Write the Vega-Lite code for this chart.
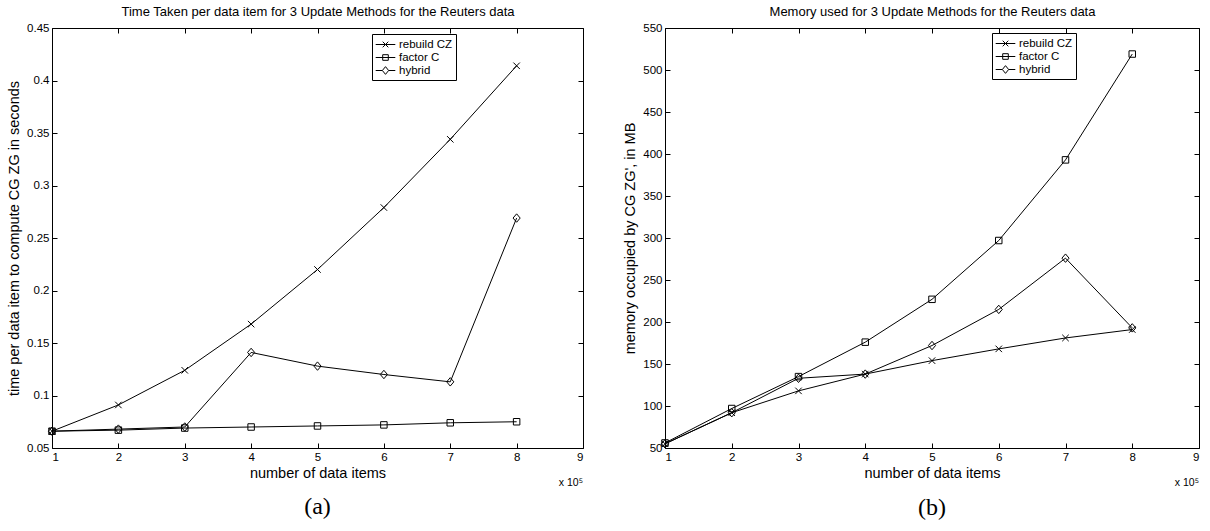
{
  "$schema": "https://vega.github.io/schema/vega-lite/v6.json",
  "background": "white",
  "padding": {"left": 6, "top": 5, "right": 6, "bottom": 4},
  "spacing": 38,
  "config": {
    "view": {"stroke": null},
    "font": "Liberation Sans",
    "axis": {
      "grid": false,
      "domainColor": "black",
      "tickColor": "black",
      "labelColor": "black",
      "titleColor": "black",
      "labelFont": "Liberation Sans",
      "titleFont": "Liberation Sans",
      "labelFontSize": 11.5,
      "titleFontSize": 14.5,
      "titleFontWeight": "normal",
      "tickSize": -5,
      "labelPadding": 8
    }
  },
  "datasets": {
    "time": [
      {"method": "rebuild CZ", "n": 1, "v": 0.066},
      {"method": "rebuild CZ", "n": 2, "v": 0.091},
      {"method": "rebuild CZ", "n": 3, "v": 0.124},
      {"method": "rebuild CZ", "n": 4, "v": 0.168},
      {"method": "rebuild CZ", "n": 5, "v": 0.220},
      {"method": "rebuild CZ", "n": 6, "v": 0.279},
      {"method": "rebuild CZ", "n": 7, "v": 0.344},
      {"method": "rebuild CZ", "n": 8, "v": 0.414},
      {"method": "factor C", "n": 1, "v": 0.066},
      {"method": "factor C", "n": 2, "v": 0.067},
      {"method": "factor C", "n": 3, "v": 0.069},
      {"method": "factor C", "n": 4, "v": 0.070},
      {"method": "factor C", "n": 5, "v": 0.071},
      {"method": "factor C", "n": 6, "v": 0.072},
      {"method": "factor C", "n": 7, "v": 0.074},
      {"method": "factor C", "n": 8, "v": 0.075},
      {"method": "hybrid", "n": 1, "v": 0.066},
      {"method": "hybrid", "n": 2, "v": 0.068},
      {"method": "hybrid", "n": 3, "v": 0.070},
      {"method": "hybrid", "n": 4, "v": 0.141},
      {"method": "hybrid", "n": 5, "v": 0.128},
      {"method": "hybrid", "n": 6, "v": 0.120},
      {"method": "hybrid", "n": 7, "v": 0.113},
      {"method": "hybrid", "n": 8, "v": 0.269}
    ],
    "memory": [
      {"method": "rebuild CZ", "n": 1, "v": 55},
      {"method": "rebuild CZ", "n": 2, "v": 92},
      {"method": "rebuild CZ", "n": 3, "v": 118},
      {"method": "rebuild CZ", "n": 4, "v": 138},
      {"method": "rebuild CZ", "n": 5, "v": 154},
      {"method": "rebuild CZ", "n": 6, "v": 168},
      {"method": "rebuild CZ", "n": 7, "v": 181},
      {"method": "rebuild CZ", "n": 8, "v": 191},
      {"method": "factor C", "n": 1, "v": 56},
      {"method": "factor C", "n": 2, "v": 97},
      {"method": "factor C", "n": 3, "v": 135},
      {"method": "factor C", "n": 4, "v": 176},
      {"method": "factor C", "n": 5, "v": 227},
      {"method": "factor C", "n": 6, "v": 297},
      {"method": "factor C", "n": 7, "v": 393},
      {"method": "factor C", "n": 8, "v": 519},
      {"method": "hybrid", "n": 1, "v": 55},
      {"method": "hybrid", "n": 2, "v": 92},
      {"method": "hybrid", "n": 3, "v": 133},
      {"method": "hybrid", "n": 4, "v": 138},
      {"method": "hybrid", "n": 5, "v": 172},
      {"method": "hybrid", "n": 6, "v": 215},
      {"method": "hybrid", "n": 7, "v": 276},
      {"method": "hybrid", "n": 8, "v": 193}
    ]
  },
  "resolve": {"scale": {"shape": "independent"}, "legend": {"shape": "independent"}},
  "hconcat": [
    {
      "width": 531,
      "height": 420,
      "title": {"text": "(a)", "orient": "bottom", "font": "Liberation Serif", "fontSize": 24, "fontWeight": "normal", "color": "black", "offset": 7},
      "resolve": {"axis": {"x": "independent", "y": "independent"}, "scale": {"shape": "independent"}, "legend": {"shape": "independent"}},
      "layer": [
        {
          "data": {"name": "time"},
          "mark": {"type": "line", "color": "black", "strokeWidth": 1},
          "encoding": {
            "x": {"field": "n", "type": "quantitative", "scale": {"domain": [1, 9], "nice": false, "zero": false},
                  "axis": {"orient": "bottom", "values": [1, 2, 3, 4, 5, 6, 7, 8, 9], "title": "number of data items", "titlePadding": 4}},
            "y": {"field": "v", "type": "quantitative", "scale": {"domain": [0.05, 0.45], "nice": false, "zero": false},
                  "axis": {"orient": "left", "values": [0.05, 0.1, 0.15, 0.2, 0.25, 0.3, 0.35, 0.4, 0.45], "format": ".2~f", "title": "time per data item to compute CG ZG in seconds", "titlePadding": 5}},
            "detail": {"field": "method"}
          }
        },
        {
          "data": {"name": "time"},
          "mark": {"type": "point", "filled": false, "color": "black", "size": 42, "strokeWidth": 1, "opacity": 1},
          "encoding": {
            "x": {"field": "n", "type": "quantitative", "axis": null},
            "y": {"field": "v", "type": "quantitative", "axis": null},
            "shape": {"field": "method", "type": "nominal", "legend": null,
              "scale": {"domain": ["rebuild CZ", "factor C", "hybrid"], "range": ["M-1,-1L1,1M-1,1L1,-1", "M-1,-1H1V1H-1Z", "M0,-1.3L1.1,0L0,1.3L-1.1,0Z"]}}
          }
        },
        {
          "data": {"values": []},
          "mark": {"type": "point", "filled": false, "color": "black", "strokeWidth": 1, "opacity": 1},
          "encoding": {
            "x": {"field": "n", "type": "quantitative", "axis": null},
            "y": {"field": "v", "type": "quantitative", "axis": null},
            "shape": {"field": "method", "type": "nominal",
              "scale": {"domain": ["rebuild CZ", "factor C", "hybrid"], "range": ["M-1.4,0H1.4M-0.4,-0.4L0.4,0.4M-0.4,0.4L0.4,-0.4", "M-1.4,0H1.4M-0.4,-0.4H0.4V0.4H-0.4Z", "M-1.4,0H-0.45M0.45,0H1.4M0,-0.55L0.45,0L0,0.55L-0.45,0Z"]},
              "legend": {
                "orient": "none", "legendX": 320, "legendY": 6, "title": null,
                "strokeColor": "black", "fillColor": "white", "padding": 3,
                "labelFont": "Liberation Sans", "labelFontSize": 11.5, "labelColor": "black", "labelOffset": 6,
                "symbolSize": 196, "symbolStrokeColor": "black", "symbolFillColor": "transparent", "symbolStrokeWidth": 1, "symbolOpacity": 1,
                "symbolOffset": 3, "rowPadding": 0
              }
            }
          }
        },
        {
          "data": {"values": [{}]},
          "mark": {"type": "text", "align": "right", "baseline": "middle", "fontSize": 10.5, "color": "black", "font": "Liberation Sans"},
          "encoding": {
            "x": {"datum": 9, "type": "quantitative",
                  "axis": {"orient": "top", "values": [1, 2, 3, 4, 5, 6, 7, 8, 9], "labels": false, "title": "Time Taken per data item for 3 Update Methods for the Reuters data", "titleFontSize": 13, "titlePadding": 9}},
            "y": {"datum": 0.017, "type": "quantitative",
                  "axis": {"orient": "right", "values": [0.05, 0.1, 0.15, 0.2, 0.25, 0.3, 0.35, 0.4, 0.45], "labels": false, "title": null}},
            "text": {"value": "x 10⁵"}
          }
        }
      ]
    },
    {
      "width": 534,
      "height": 420,
      "title": {"text": "(b)", "orient": "bottom", "font": "Liberation Serif", "fontSize": 24, "fontWeight": "normal", "color": "black", "offset": 7},
      "resolve": {"axis": {"x": "independent", "y": "independent"}, "scale": {"shape": "independent"}, "legend": {"shape": "independent"}},
      "layer": [
        {
          "data": {"name": "memory"},
          "mark": {"type": "line", "color": "black", "strokeWidth": 1},
          "encoding": {
            "x": {"field": "n", "type": "quantitative", "scale": {"domain": [1, 9], "nice": false, "zero": false},
                  "axis": {"orient": "bottom", "values": [1, 2, 3, 4, 5, 6, 7, 8, 9], "title": "number of data items", "titlePadding": 4}},
            "y": {"field": "v", "type": "quantitative", "scale": {"domain": [50, 550], "nice": false, "zero": false},
                  "axis": {"orient": "left", "values": [50, 100, 150, 200, 250, 300, 350, 400, 450, 500, 550], "title": "memory occupied by CG ZG', in MB", "titlePadding": 5}},
            "detail": {"field": "method"}
          }
        },
        {
          "data": {"name": "memory"},
          "mark": {"type": "point", "filled": false, "color": "black", "size": 42, "strokeWidth": 1, "opacity": 1},
          "encoding": {
            "x": {"field": "n", "type": "quantitative", "axis": null},
            "y": {"field": "v", "type": "quantitative", "axis": null},
            "shape": {"field": "method", "type": "nominal", "legend": null,
              "scale": {"domain": ["rebuild CZ", "factor C", "hybrid"], "range": ["M-1,-1L1,1M-1,1L1,-1", "M-1,-1H1V1H-1Z", "M0,-1.3L1.1,0L0,1.3L-1.1,0Z"]}}
          }
        },
        {
          "data": {"values": []},
          "mark": {"type": "point", "filled": false, "color": "black", "strokeWidth": 1, "opacity": 1},
          "encoding": {
            "x": {"field": "n", "type": "quantitative", "axis": null},
            "y": {"field": "v", "type": "quantitative", "axis": null},
            "shape": {"field": "method", "type": "nominal",
              "scale": {"domain": ["rebuild CZ", "factor C", "hybrid"], "range": ["M-1.4,0H1.4M-0.4,-0.4L0.4,0.4M-0.4,0.4L0.4,-0.4", "M-1.4,0H1.4M-0.4,-0.4H0.4V0.4H-0.4Z", "M-1.4,0H-0.45M0.45,0H1.4M0,-0.55L0.45,0L0,0.55L-0.45,0Z"]},
              "legend": {
                "orient": "none", "legendX": 327, "legendY": 5, "title": null,
                "strokeColor": "black", "fillColor": "white", "padding": 3,
                "labelFont": "Liberation Sans", "labelFontSize": 11.5, "labelColor": "black", "labelOffset": 6,
                "symbolSize": 196, "symbolStrokeColor": "black", "symbolFillColor": "transparent", "symbolStrokeWidth": 1, "symbolOpacity": 1,
                "symbolOffset": 3, "rowPadding": 0
              }
            }
          }
        },
        {
          "data": {"values": [{}]},
          "mark": {"type": "text", "align": "right", "baseline": "middle", "fontSize": 10.5, "color": "black", "font": "Liberation Sans"},
          "encoding": {
            "x": {"datum": 9, "type": "quantitative",
                  "axis": {"orient": "top", "values": [1, 2, 3, 4, 5, 6, 7, 8, 9], "labels": false, "title": "Memory used for 3 Update Methods for the Reuters data", "titleFontSize": 13, "titlePadding": 9}},
            "y": {"datum": 8, "type": "quantitative",
                  "axis": {"orient": "right", "values": [50, 100, 150, 200, 250, 300, 350, 400, 450, 500, 550], "labels": false, "title": null}},
            "text": {"value": "x 10⁵"}
          }
        }
      ]
    }
  ]
}
